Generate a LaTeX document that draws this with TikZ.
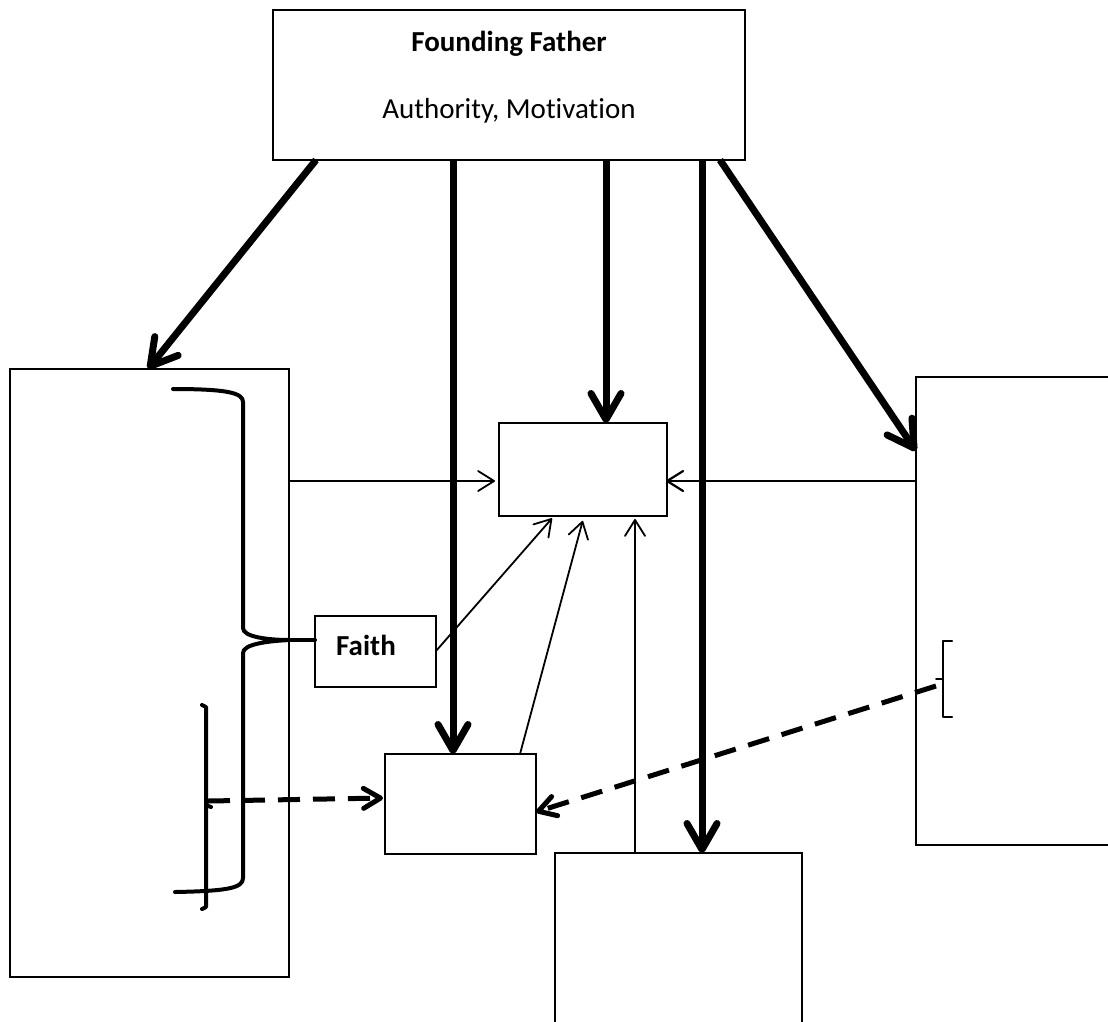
\documentclass[tikz,border=0pt]{standalone}
\usepackage{fontspec}
\setmainfont{Carlito}[Ligatures=NoCommon]
\usetikzlibrary{arrows.meta}
\begin{document}
\begin{tikzpicture}[x=1pt,y=-1pt,
  box/.style={draw, line width=1.3pt, rectangle, inner sep=0pt, outer sep=0pt},
  txt/.style={inner sep=0pt, anchor=base, font=\fontsize{29pt}{34pt}\selectfont},
  bigarrow/.style={line width=7pt, -{Straight Barb[length=26pt,width=30pt,round]}},
  thinarrow/.style={line width=1.8pt, -{Straight Barb[length=16pt,width=20pt,round]}},
  dasharrow/.style={line width=5pt, dash pattern=on 22pt off 13pt, -{Straight Barb[length=17pt,width=20pt,round]}},
  bracestyle/.style={line width=4pt, line cap=round, line join=round},
  smallbrace/.style={line width=2pt, line cap=round, line join=round}]
\useasboundingbox (0,0) rectangle (1108,1021);
\clip (0,0) rectangle (1108,1021);
\fill[white] (0,0) rectangle (1108,1021);

% boxes
\node[box, minimum width=472pt, minimum height=150pt] (top) at (509,85) {};
\node[txt] (ff1) at (509,51) {\textbf{Founding Father}};
\node[txt] (ff2) at (509,118) {Authority, Motivation};
\node[box, minimum width=279pt, minimum height=608pt] (leftbox) at (149.5,673) {};
\node[box, minimum width=168pt, minimum height=93pt] (center) at (583,469.5) {};
\node[box, minimum width=214pt, minimum height=468pt] (rightbox) at (1023,611) {};
\node[box, minimum width=121pt, minimum height=71pt] (faith) at (375.5,651.5) {};
\node[txt] (faithtxt) at (366,655) {\textbf{Faith}};
\node[box, minimum width=151pt, minimum height=100pt] (lower) at (460.5,804) {};
\node[box, minimum width=247pt, minimum height=187pt] (bottom) at (678.5,946.5) {};

% big brace on the left
\coordinate (bracetip) at (290,640);
\draw[bracestyle] (173,389) .. controls (228,389) and (243,393) .. (243,402)
  -- (243,628) .. controls (243,637) and (268,640) .. (bracetip)
  .. controls (268,641) and (243,644) .. (243,653)
  -- (243,878) .. controls (243,888) and (228,891) .. (175,892);
\draw[bracestyle] (bracetip) -- (faith.west |- bracetip);

% small bracket on the left
\coordinate (lbr) at (208,801);
\draw[bracestyle] (202,705) -- (206,707) -- (206,907) -- (202,909);
\draw[bracestyle] (206,805) -- (211,807);

% small bracket on the right
\coordinate (rbr) at (936,686);
\draw[smallbrace] (952,641) -- (943,641) -- (943,717) -- (952,717);
\draw[smallbrace] (943,679) -- (936,679);

% thick arrows from the top box
\draw[bigarrow] (316,0 |- top.south) -- (148,0 |- leftbox.north);
\draw[bigarrow] (453,0 |- top.south) -- (453,0 |- lower.north);
\draw[bigarrow] (606,0 |- top.south) -- (606,0 |- center.north);
\draw[bigarrow] (702,0 |- top.south) -- (702,0 |- bottom.north);
\draw[bigarrow] (720,0 |- top.south) -- (rightbox.west |- 0,451);

% thin arrows into the centre box
\draw[thinarrow, shorten >=4pt] (leftbox.east |- 0,481) -- (center.west |- 0,481);
\draw[thinarrow, line width=2.2pt, shorten >=-1pt] (rightbox.west |- 0,481) -- (center.east |- 0,481);
\draw[thinarrow, shorten >=3pt] (faith.east |- 0,651) -- (554,0 |- center.south);
\draw[thinarrow, shorten >=5pt] (520,0 |- lower.north) -- (584,0 |- center.south);
\draw[thinarrow, shorten >=3pt] (635,0 |- bottom.north) -- (635,0 |- center.south);

% dashed arrows into the lower box
\draw[dasharrow, shorten >=2pt] (lbr) -- (lower.west |- 0,798);
\draw[dasharrow] (rbr) -- (lower.east |- 0,812);
\end{tikzpicture}
\end{document}
